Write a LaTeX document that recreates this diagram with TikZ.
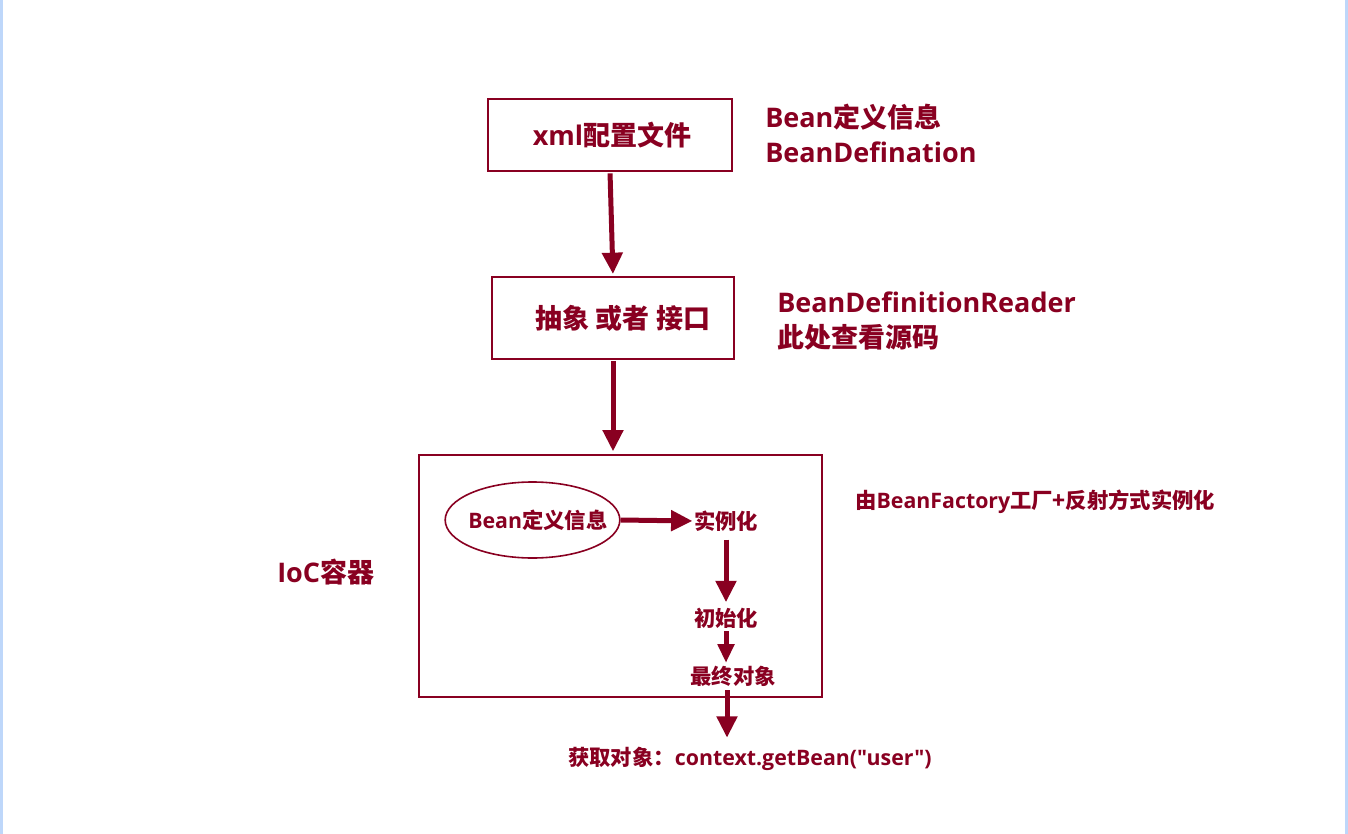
\documentclass[tikz,border=0pt]{standalone}
\usepackage{fontspec}
\setmainfont{Noto Sans CJK SC}
\newfontfamily\lat{Open Sans}
\usetikzlibrary{arrows.meta,calc,shapes.geometric}
\definecolor{dred}{RGB}{137,0,33}
\definecolor{sideblue}{RGB}{190,215,250}
\tikzset{
  box/.style={draw=dred, line width=1.5pt, text=dred, font=\bfseries\fontsize{20.25}{24}\selectfont, inner sep=0pt},
  bigtxt/.style={text=dred, font=\bfseries\fontsize{20.25}{26.25}\selectfont, align=left, inner sep=0pt},
  smalltxt/.style={text=dred, font=\bfseries\fontsize{16}{19}\selectfont, inner sep=0pt},
  flow/.style={draw=dred, line width=3.75pt, -{Triangle[width=15pt,length=16pt]}},
  flowsm/.style={draw=dred, line width=3.75pt, -{Triangle[width=12pt,length=14pt]}}
}
\begin{document}
\begin{tikzpicture}[x=0.75pt,y=-0.75pt]
\useasboundingbox (0,0) rectangle (1348,834);
\fill[white] (0,0) rectangle (1348,834);
\draw[sideblue, line width=2.25pt] (1.5,0) -- (1.5,834);
\draw[sideblue, line width=2.25pt] (1346.5,0) -- (1346.5,834);

% top boxes
\node[box, minimum width=183pt, minimum height=54pt] (box1) at (610,135) {\hspace*{3pt}{\lat xml}配置文件};
\node[box, minimum width=181.5pt, minimum height=61.5pt] (box2) at (613,318) {\hspace*{15pt}抽象 或者 接口};
\node[box, minimum width=302pt, minimum height=181.5pt] (ioc) at (620.5,576) {};

% side labels
\node[bigtxt, anchor=base west] (lbl1) at (765,163) {{\lat Bean}定义信息\\{\lat BeanDefination}};
\node[bigtxt, anchor=base west] (lbl2) at (777,347) {{\lat BeanDefinitionReader}\\此处查看源码};
\node[smalltxt, anchor=base west] (lbl3) at (855,508) {由{\lat BeanFactory}工厂+反射方式实例化};
\node[bigtxt, anchor=base west] (lbl4) at (277,582) {{\lat IoC}容器};

% inside IoC
\node[draw=dred, line width=1.2pt, ellipse, inner sep=0pt, minimum width=131pt, minimum height=57pt, smalltxt] (ell) at (532.5,520) {\makebox[0pt]{\hspace*{8pt}{\lat Bean}定义信息}};
\node[smalltxt] (n1) at (726,521) {实例化};
\node[smalltxt] (n2) at (726,618) {初始化};
\node[smalltxt] (n3) at (733,676) {最终对象};
\node[smalltxt] (get) at (750,759) {获取对象：{\lat context.getBean("user")}};
\coordinate (b0) at (727,690);

% arrows
\draw[flow, shorten <=1pt, shorten >=1.5pt] (box1.south) -- (box2.north);
\draw[flow, shorten <=1pt, shorten >=2pt] (box2.south) -- (box2.south |- ioc.north);
\draw[flow, shorten <=0pt, shorten >=1pt] (ell.east) -- (n1.west);
\draw[flow, shorten <=6pt, shorten >=4pt] (n1.south) -- (n2.north);
\draw[flowsm, shorten <=2pt, shorten >=2pt] (n2.south) -- (n2.south |- n3.north);
\draw[flow, shorten >=7pt] (b0) -- (b0 |- get.north);
\end{tikzpicture}
\end{document}
